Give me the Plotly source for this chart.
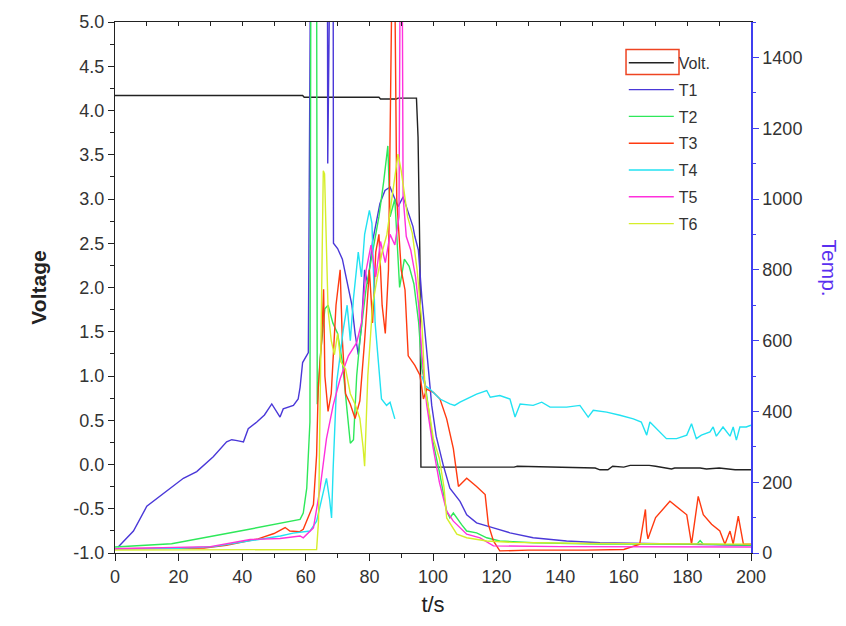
import plotly.graph_objects as go

# ---------------- data ----------------
volt_t = [0, 59, 59.5, 83, 83.5, 88.5, 89, 94.8, 95.3, 95.9, 96.2, 110, 125.5, 126.5, 140, 151, 152.5,
          155, 156.5, 160, 162, 168, 170, 175, 176, 184, 186, 190, 195, 200]
volt_v = [4.17, 4.17, 4.15, 4.15, 4.13, 4.13, 4.14, 4.14, 3.7, 2.3, -0.03, -0.03, -0.03, -0.02, -0.03, -0.04,
          -0.06, -0.06, -0.02, -0.03, -0.01, -0.01, -0.02, -0.05, -0.04, -0.04, -0.05, -0.04, -0.06, -0.06]

t1_t = [1, 5.8, 10, 16.3, 21.5, 25.7, 30.9, 35.1, 36.7, 38, 40.4, 41.9, 44.6, 47, 49.3, 51.9, 52.9, 56.1,
        57.6, 58.2, 59, 60.8, 61.5, 66.8, 66.9, 67.6, 68.6, 68.7, 70, 71.5, 73, 74.5, 75.5, 76.5, 77.5, 78.5,
        79.5, 81, 83.3, 84.9, 86.5, 89, 90.6, 92.1, 93.7, 94.3, 95.4, 96.5, 97.5, 98, 99.6, 101, 103.2, 105.3,
        108.5, 110.6, 113.7, 119, 124.2, 131.5, 142, 152.5, 165, 180, 200]
t1_v = [17, 62, 132, 174, 211, 230, 272, 314, 320, 318, 314, 351, 370, 390, 421, 384, 407, 417,
        435, 468, 538, 566, 1700, 1700, 1100, 1700, 1700, 875, 860, 830, 760, 700, 620, 560, 640, 800,
        760, 880, 987, 1024, 1034, 978, 1006, 968, 922, 894, 856, 720, 622, 557, 417, 330, 249, 183,
        146, 108, 85, 71, 57, 43, 34, 29, 27, 25, 22]

t2_t = [0, 17.8, 39.3, 56, 58.2, 59.2, 60.3, 61.3, 61.6, 63.4, 63.6, 64.5, 66, 67, 68.5, 70, 71.5, 73, 74,
        75, 76, 77, 79, 81, 83, 84.5, 85.8, 86.5, 88, 89.5, 91, 92.5, 94, 95.5, 96.5, 97.5, 100, 102.2,
        104.3, 105.3, 106.4, 109, 110.6, 113.7, 116.9, 121, 131.5, 152, 183, 184, 185, 200]
t2_v = [17, 26, 62, 90, 95, 113, 183, 370, 1700, 1700, 420, 550, 690, 700, 650, 620, 540, 400, 310,
        320, 500, 600, 750, 850, 950, 1050, 1150, 950, 1000, 750, 830, 810, 760, 650, 520, 480, 314, 221,
        118, 99, 113, 80, 62, 57, 43, 34, 29, 25, 25, 35, 25, 22]

t3_t = [0, 28, 35, 45, 50, 52, 53.5, 55, 58, 59.2, 62.4, 63.4, 63.9, 65, 65.6, 66, 67, 68, 69.5, 70.8,
        71.5, 72.5, 74, 75.5, 77, 78.5, 80, 81, 82, 83, 84, 85, 86, 87.2, 87.9, 88.6, 89.5, 90, 91.2,
        92.2, 94.3, 95.9, 97, 98, 100.1, 102.2, 104.3, 106.4, 108, 110.6, 113.7, 116.4, 117.4, 119, 121,
        130, 148, 160, 165, 166.8, 167.2, 167.6, 170, 174.5, 179.8, 181.3, 183.4, 185, 187.6, 190.2,
        191.8, 193.4, 194.4, 196, 197.6, 200]
t3_v = [12, 14, 22, 40, 55, 65, 72, 62, 60, 67, 137, 277, 463, 604, 745, 500, 400, 450, 700, 800,
        600, 450, 420, 380, 430, 600, 800, 650, 850, 900, 700, 620, 800, 1700, 1700, 1000, 850, 800, 743,
        557, 530, 502, 435, 463, 454, 435, 379, 295, 188, 211, 188, 165, 81, 34, 6,
        8, 8, 10, 25, 123, 62, 40, 100, 146, 108, 25, 160, 108, 81, 62,
        25, 62, 25, 104, 25, 25]

t4_t = [0, 20, 31, 40, 45, 52, 56, 61.3, 63.4, 65, 66.5, 67.5, 68.1, 68.6, 69.2, 69.7, 70.8, 71.8, 73,
        74, 75, 76.5, 77.5, 78.5, 80, 80.8, 81.8, 82.8, 83.8, 85.4, 86.5, 88, None, 96.5, 97.5, 99, 102.2,
        105.3, 106.8, 108.5, 110.6, 113.7, 116.9, 118, 121, 124.2, 125.8, 127.4, 131.5, 134.2, 136.8, 142,
        146.2, 148.8, 150.4, 154.6, 158.8, 163, 165.5, 167.2, 168.2, 170.3, 173.4, 176.6, 179.8, 181.3,
        182.8, 184.4, 187.1, 188.1, 189.1, 191.2, 193.4, 194.4, 195.4, 196.5, 198.5, 200]
t4_v = [12, 13, 18, 30, 38, 48, 56, 62, 90, 150, 211, 150, 99, 239, 370, 482, 558, 632, 700,
        600, 720, 850, 780, 900, 968, 931, 650, 530, 435, 417, 426, 379, None, 500, 473, 463, 435,
        421, 417, 426, 435, 449, 459, 440, 445, 435, 384, 421, 417, 426, 412, 412,
        417, 384, 403, 398, 389, 379, 370, 333, 370, 351, 323, 323, 333, 365,
        323, 333, 342, 356, 330, 356, 330, 356, 319, 356, 356, 361]

t5_t = [0, 30, 42.5, 51.9, 58.2, 59.2, 62.4, 64.5, 66.5, 68.6, 70.8, 73.4, 76, 77.5, 79, 80.5, 82, 83.5,
        85, 86.5, 88, 89.3, 89.7, 90.3, 90.6, 91.6, 93, 94.5, 95.5, 96.5, 98, 100, 102, 104.3, 106.4,
        110.6, 114.8, 119, 140, 170, 200]
t5_v = [12, 18, 38, 41, 48, 43, 71, 183, 323, 417, 492, 557, 594, 650, 800, 870, 780, 880,
        820, 900, 870, 950, 1700, 1700, 1006, 894, 856, 780, 700, 560, 420, 300, 200, 118, 90,
        53, 43, 20, 18, 17, 17]

t6_t = [0, 30, 60, 63.4, 64, 64.3, 64.9, 65.5, 65.9, 66.4, 67, 68, 69, 70, 71, 72.5, 74, 75.5, 77, 78,
        78.5, 79.5, 81, 82.5, 84, 85.5, 87, 89, 90, 92, 93.5, 95, 96.5, 97.5, 99, 100.1, 102, 103.5, 104.3,
        107.5, 110.6, 116.9, 125, 150, 200]
t6_v = [8, 8, 8, 10, 90, 277, 558, 1080, 1071, 894, 687, 600, 560, 620, 540, 520, 450, 420, 380, 300,
        245, 500, 700, 780, 850, 900, 1000, 1127, 1080, 950, 903, 800, 650, 463, 389, 323, 267, 183, 99,
        53, 43, 34, 30, 27, 25]

volt_ticks = [-1.0, -0.5, 0.0, 0.5, 1.0, 1.5, 2.0, 2.5, 3.0, 3.5, 4.0, 4.5, 5.0]
volt_tick_labels = ["-1.0", "-0.5", "0.0", "0.5", "1.0", "1.5", "2.0", "2.5", "3.0", "3.5", "4.0", "4.5", "5.0"]

temp_series = [("T1", t1_t, t1_v, "#4a38d8"),
               ("T2", t2_t, t2_v, "#2ee85a"),
               ("T3", t3_t, t3_v, "#ff3a10"),
               ("T4", t4_t, t4_v, "#22e2f2"),
               ("T5", t5_t, t5_v, "#ff30dc"),
               ("T6", t6_t, t6_v, "#d6ee2a")]

FONT = "Liberation Sans, Arial, sans-serif"
AXIS_BLUE = "#3f3ff0"

fig = go.Figure()
fig.add_trace(go.Scatter(x=volt_t, y=volt_v, mode="lines", name="Volt.",
                         line=dict(color="#222222", width=1.4), legendgroup="v"))
for name, tt, vv, col in temp_series:
    fig.add_trace(go.Scatter(x=tt, y=vv, mode="lines", name=name, yaxis="y2",
                             line=dict(color=col, width=1.4), legendgroup=name,
                             connectgaps=False))
# dummy trace so the top (mirror) axis is drawn
fig.add_trace(go.Scatter(x=[None], y=[None], xaxis="x2", yaxis="y", showlegend=False,
                         hoverinfo="skip"))

fig.update_layout(
    width=846, height=626,
    margin=dict(l=115, r=95, t=17, b=73),
    paper_bgcolor="white", plot_bgcolor="white",
    font=dict(family=FONT, color="#333333"),
    showlegend=True,
    xaxis=dict(range=[0, 200], dtick=20, tick0=0, ticks="outside", ticklen=7, tickwidth=1.3,
               tickcolor="#222", showline=True, linecolor="#222", linewidth=1.3,
               showgrid=False, zeroline=False,
               minor=dict(dtick=10, ticks="outside", ticklen=4, tickcolor="#222", tickwidth=1.2),
               tickfont=dict(size=18, color="#333"),
               title=dict(text="t/s", font=dict(size=22, color="#222"), standoff=10)),
    xaxis2=dict(range=[0, 200], overlaying="x", side="top", anchor="y", showticklabels=False,
                ticks="inside", dtick=10, tick0=0, ticklen=4, tickcolor="#222", tickwidth=1.2,
                showline=True, linecolor="#222", linewidth=1.3, showgrid=False, zeroline=False),
    yaxis=dict(range=[-1, 5], tickmode="array", tickvals=volt_ticks, ticktext=volt_tick_labels,
               ticks="outside", ticklen=6,
               tickwidth=1.3, tickcolor="#222", showline=True, linecolor="#222", linewidth=1.3,
               showgrid=False, zeroline=False,
               minor=dict(dtick=0.25, tick0=0, ticks="outside", ticklen=3.5, tickcolor="#222", tickwidth=1.2),
               tickfont=dict(size=18, color="#333"),
               title=dict(text="<b>Voltage</b>", font=dict(size=21, color="#222"), standoff=20)),
    yaxis2=dict(range=[0, 1500], dtick=200, tick0=0, overlaying="y", side="right", anchor="x",
                ticks="outside", ticklen=6, tickwidth=1.3, tickcolor=AXIS_BLUE,
                showline=True, linecolor=AXIS_BLUE, linewidth=1.5, showgrid=False, zeroline=False,
                minor=dict(dtick=100, ticks="outside", ticklen=3.5, tickcolor=AXIS_BLUE, tickwidth=1.2),
                tickfont=dict(size=18, color="#333")),
    legend=dict(x=0.80, y=0.955, xanchor="left", yanchor="top", bgcolor="rgba(0,0,0,0)",
                font=dict(size=16, color="#333", family=FONT), tracegroupgap=3,
                itemwidth=45),
    annotations=[dict(text="Temp.", xref="paper", yref="paper", x=1.124, y=0.536,
                      xanchor="center", yanchor="middle", textangle=90, showarrow=False,
                      font=dict(size=21, color="#5a30f0", family=FONT))],
    shapes=[dict(type="rect", xref="paper", yref="paper", x0=0.8035, x1=0.8868, y0=0.901, y1=0.948,
                 line=dict(color="#ee4422", width=1.5))],
)

fig.write_html("out.html")
